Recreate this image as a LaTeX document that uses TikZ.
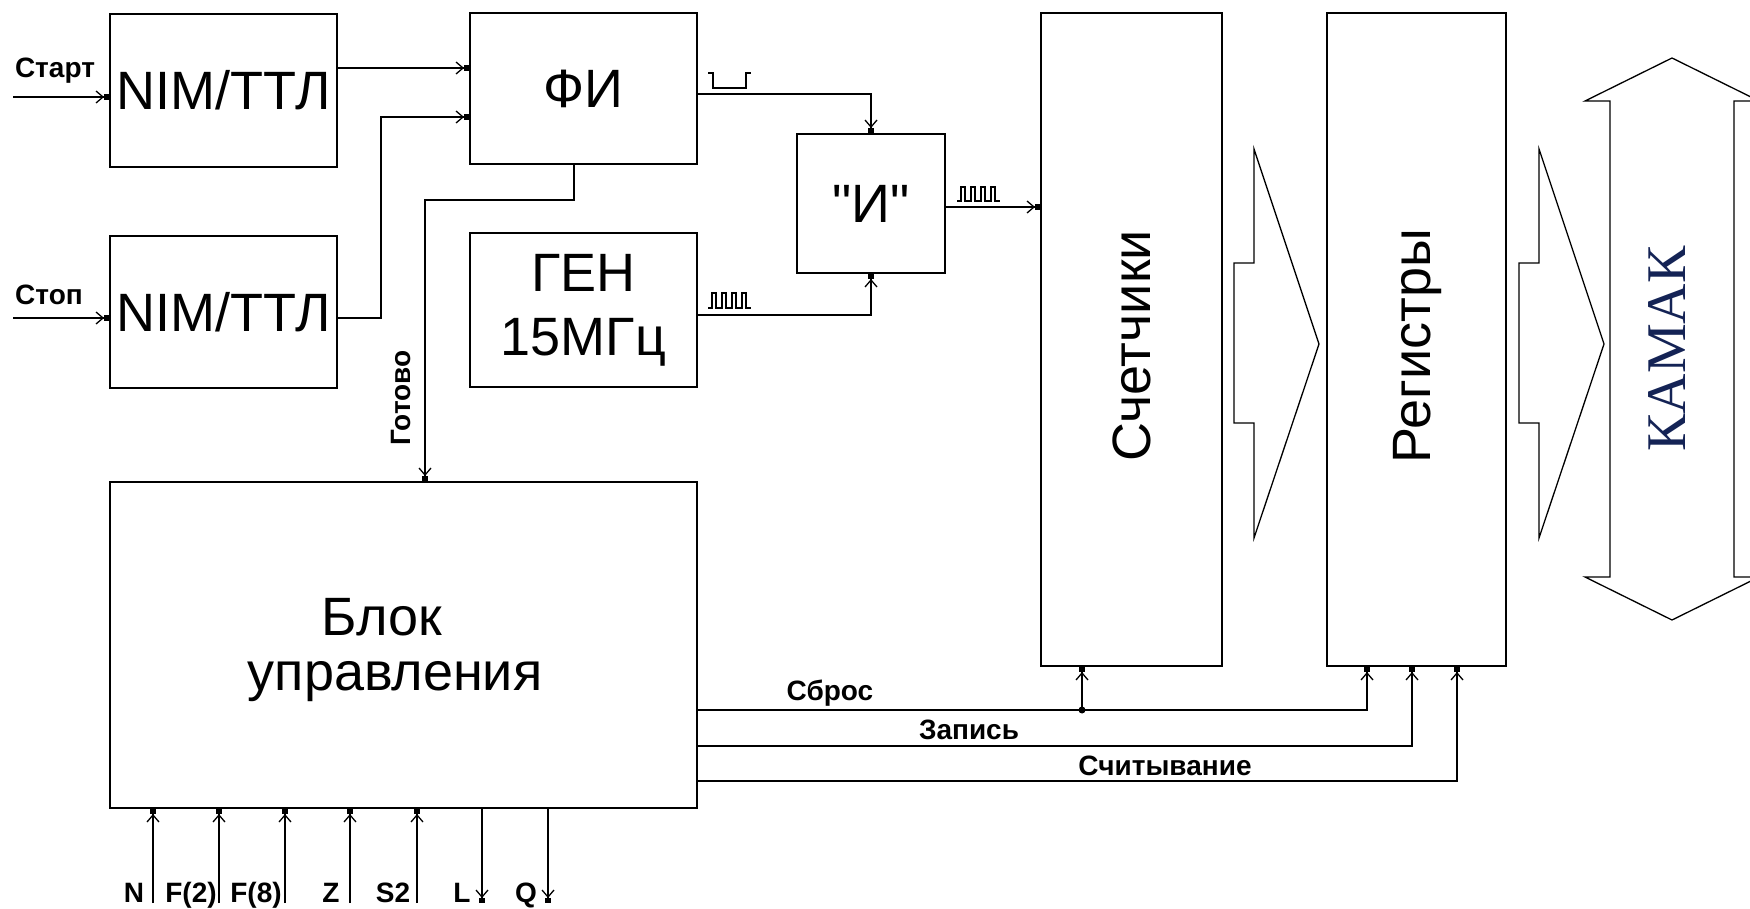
\documentclass[tikz,border=0pt]{standalone}
\usepackage{fontspec}
\setmainfont{Liberation Sans}
\newfontfamily\plainsans{Liberation Sans}[Ligatures=TeXOff]
\newfontfamily\kamakfont{Liberation Serif}
\usetikzlibrary{arrows.meta}
\definecolor{kamakcol}{RGB}{20,35,85}
\tikzset{
  box/.style={draw, line width=2pt, inner sep=0pt, align=center, font=\fontsize{54}{64}\selectfont},
  bigtext/.style={inner sep=0pt, font=\fontsize{54}{64}\selectfont},
  sig/.style={line width=1.8pt, -{Straight Barb[length=7pt,width=12pt,line width=1.3pt]Square[length=5pt,width=6pt]}},
  lbl/.style={inner sep=0pt, font=\fontsize{28}{30}\selectfont\bfseries},
  bigarrow/.style={draw, line width=1.3pt, line join=miter},
  pulse/.style={line width=1.6pt},
}
\begin{document}
\begin{tikzpicture}[x=1pt,y=-1pt]
\fill[white] (0,0) rectangle (1750,909);
\useasboundingbox (0,0) rectangle (1750,909);

% boxes
\node[box, minimum width=227pt, minimum height=153pt] (nimA) at (223.5,90.5) {NIM/ТТЛ};
\node[box, minimum width=227pt, minimum height=152pt] (nimB) at (223.5,312) {NIM/ТТЛ};
\node[box, minimum width=227pt, minimum height=151pt] (fi) at (583.5,88.5) {ФИ};
\node[box, minimum width=227pt, minimum height=154pt] (gen) at (583.5,310) {ГЕН\\15МГц};
\node[box, minimum width=148pt, minimum height=139pt, font=\plainsans\fontsize{54}{64}\selectfont] (and) at (871,203.5) {"И"};
\node[box, minimum width=587pt, minimum height=326pt] (blok) at (403.5,645) {};
\node[bigtext, anchor=base] (bloktext1) at (382,635) {Блок};
\node[bigtext, anchor=base] (bloktext2) at (395,690) {управления};
\node[box, minimum width=181pt, minimum height=653pt] (cnt) at (1131.5,339.5) {};
\node[bigtext, rotate=90] (cnttext) at (1131.5,346) {Счетчики};
\node[box, minimum width=179pt, minimum height=653pt] (reg) at (1416.5,339.5) {};
\node[bigtext, rotate=90] (regtext) at (1418,346) {Регистры};

% big hollow arrows
\draw[bigarrow] (1254,149) -- (1254,263) -- (1234,263) -- (1234,423) -- (1254,423) -- (1254,538) -- (1319,344) -- cycle;
\draw[bigarrow] (1539,149) -- (1539,263) -- (1519,263) -- (1519,423) -- (1539,423) -- (1539,538) -- (1604,344) -- cycle;
\draw[bigarrow] (1610,101) -- (1585,101) -- (1672,58) -- (1759,101) -- (1734,101) -- (1734,577) -- (1759,577) -- (1672,620) -- (1585,577) -- (1610,577) -- cycle;
\node[inner sep=0pt, rotate=90, text=kamakcol, font=\kamakfont\fontsize{56}{60}\selectfont] (kamak) at (1667,349) {КАМАК};

% inputs
\coordinate (startin) at (13,97);
\coordinate (stopin) at (13,318);
\draw[sig] (startin) -- (startin -| nimA.west);
\draw[sig] (stopin) -- (stopin -| nimB.west);
\node[lbl, anchor=base] (startlbl) at (55,78) {Старт};
\node[lbl, anchor=base] (stoplbl) at (49,305) {Стоп};

% NIM -> FI
\draw[sig] (nimA.east |- 0,68) -- (fi.west |- 0,68);
\draw[sig] (nimB.east |- 0,318) -| (381,117) -- (fi.west |- 0,117);

% FI -> AND, GEN -> AND, AND -> counters
\draw[sig] (fi.east |- 0,94) -| (and.north);
\draw[sig] (gen.east |- 0,315) -| (and.south);
\draw[sig] (and.east |- 0,207) -- (cnt.west |- 0,207);

% pulse symbols
\draw[pulse] (708,73) -- (713,73) -- (713,88) -- (746,88) -- (746,73) -- (751,73);
\draw[pulse] (708,308) -- (712,308) -- (712,293) -- (716,293) -- (716,308) -- (722,308) -- (722,293) -- (726,293) -- (726,308) -- (732,308) -- (732,293) -- (736,293) -- (736,308) -- (742,308) -- (742,293) -- (746,293) -- (746,308) -- (751,308);
\draw[pulse] (957,201) -- (961,201) -- (961,187) -- (965,187) -- (965,201) -- (971,201) -- (971,187) -- (975,187) -- (975,201) -- (981,201) -- (981,187) -- (985,187) -- (985,201) -- (991,201) -- (991,187) -- (995,187) -- (995,201) -- (1000,201);

% Ready
\draw[sig] ([xshift=-9.5pt]fi.south) |- (425,200) -- (blok.north -| 425,0);
\node[lbl, rotate=90] (gotovo) at (401,398) {Готово};

% bottom signals
\foreach \x in {153,219,285,350,417} \draw[sig] (\x,903) -- (blok.south -| \x,0);
\foreach \x in {482,548} \draw[sig] (blok.south -| \x,0) -- (\x,903);
\node[lbl, anchor=base] (lN) at (134,902) {N};
\node[lbl, anchor=base] (lF2) at (191,902) {F(2)};
\node[lbl, anchor=base] (lF8) at (256,902) {F(8)};
\node[lbl, anchor=base] (lZ) at (331,902) {Z};
\node[lbl, anchor=base] (lS2) at (393,902) {S2};
\node[lbl, anchor=base] (lL) at (462,902) {L};
\node[lbl, anchor=base] (lQ) at (526,902) {Q};

% control lines
\coordinate (jn) at (1082,710);
\draw[sig] (blok.east |- 0,710) -| (reg.south -| 1367,0);
\draw[sig] (jn) -- (cnt.south -| jn);
\fill (jn) circle (3.5pt);
\draw[sig] (blok.east |- 0,746) -| (reg.south -| 1412,0);
\draw[sig] (blok.east |- 0,781) -| (reg.south -| 1457,0);
\node[lbl, anchor=base] (lsbros) at (830,700) {Сброс};
\node[lbl, anchor=base] (lzap) at (969,739) {Запись};
\node[lbl, anchor=base] (lread) at (1165,775) {Считывание};
\end{tikzpicture}
\end{document}
